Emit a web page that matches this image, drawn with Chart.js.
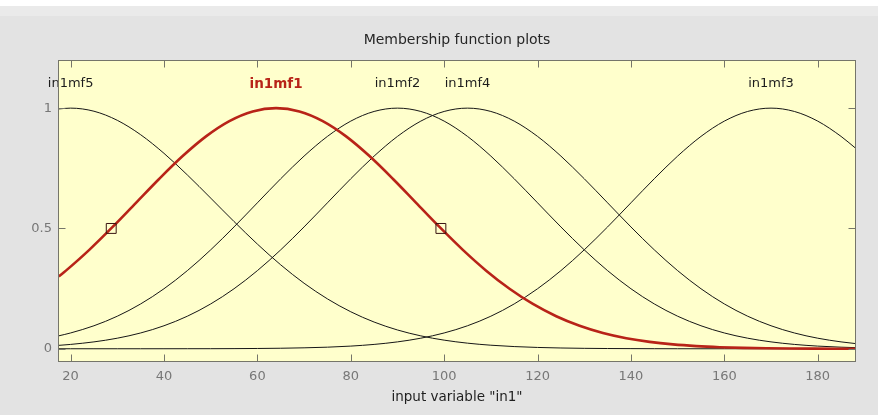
<!DOCTYPE html>
<html>
<head>
<meta charset="utf-8">
<title>Membership function plots</title>
<script src="https://cdn.jsdelivr.net/npm/chart.js@4.4.0/dist/chart.umd.min.js"></script>
<style>
  html, body { margin: 0; padding: 0; background: #e3e3e3; }
  canvas { display: block; }
</style>
</head>
<body>
<canvas id="mfChart" width="878" height="415"></canvas>
<script>
'use strict';

// sample points along input variable "in1"
let inputX = [17.5, 20, 25, 30, 35, 40, 45, 50, 55, 60, 65, 70, 75, 80, 85, 90, 95, 100, 105, 110,
  115, 120, 125, 130, 135, 140, 145, 150, 155, 160, 165, 170, 175, 180, 185, 188];
// in1mf1 peaks off the 5-grid, so it gets its own samples
let in1mf1X = [17.5, 19, 24, 29, 34, 39, 44, 49, 54, 59, 64, 69, 74, 79, 84, 89, 94, 99, 104, 109,
  114, 119, 124, 129, 134, 139, 144, 149, 154, 159, 164, 169, 174, 179, 184, 188];

// membership values
let in1mf5 = [0.9968, 1, 0.9871, 0.9493, 0.8895, 0.8121, 0.7224, 0.6261, 0.5287, 0.4350,
  0.3487, 0.2723, 0.2073, 0.1537, 0.1110, 0.0781, 0.0536, 0.0358, 0.0233, 0.0148,
  0.0091, 0.0055, 0.0032, 0.0018, 0.0010, 0.0006, 0.0003, 0.0001, 0, 0,
  0, 0, 0, 0, 0, 0];
let in1mf1 = [0.3008, 0.3247, 0.4111, 0.5063, 0.6065, 0.7066, 0.8007, 0.8825, 0.9460, 0.9862,
  1, 0.9862, 0.9460, 0.8825, 0.8007, 0.7066, 0.6065, 0.5063, 0.4111, 0.3247,
  0.2494, 0.1863, 0.1353, 0.0956, 0.0657, 0.0439, 0.0286, 0.0181, 0.0111, 0.0066,
  0.0039, 0.0022, 0.0012, 0.0006, 0.0003, 0.0002];
let in1mf2 = [0.0539, 0.0657, 0.0956, 0.1353, 0.1863, 0.2494, 0.3247, 0.4111, 0.5063, 0.6065,
  0.7066, 0.8007, 0.8825, 0.9460, 0.9862, 1, 0.9862, 0.9460, 0.8825, 0.8007,
  0.7066, 0.6065, 0.5063, 0.4111, 0.3247, 0.2494, 0.1863, 0.1353, 0.0956, 0.0657,
  0.0439, 0.0286, 0.0181, 0.0111, 0.0066, 0.0048];
let in1mf4 = [0.0142, 0.0181, 0.0286, 0.0439, 0.0657, 0.0956, 0.1353, 0.1863, 0.2494, 0.3247,
  0.4111, 0.5063, 0.6065, 0.7066, 0.8007, 0.8825, 0.9460, 0.9862, 1, 0.9862,
  0.9460, 0.8825, 0.8007, 0.7066, 0.6065, 0.5063, 0.4111, 0.3247, 0.2494, 0.1863,
  0.1353, 0.0956, 0.0657, 0.0439, 0.0286, 0.0218];
let in1mf3 = [0, 0, 0, 0, 0, 0.0001, 0.0002, 0.0003, 0.0006, 0.0012,
  0.0022, 0.0039, 0.0066, 0.0111, 0.0181, 0.0286, 0.0439, 0.0657, 0.0956, 0.1353,
  0.1863, 0.2494, 0.3247, 0.4111, 0.5063, 0.6065, 0.7066, 0.8007, 0.8825, 0.9460,
  0.9862, 1, 0.9862, 0.9460, 0.8825, 0.8353];

let mfNames = ['in1mf5', 'in1mf1', 'in1mf2', 'in1mf4', 'in1mf3'];
let mfSeries = [in1mf5, in1mf1, in1mf2, in1mf4, in1mf3];
let mfXs = [inputX, in1mf1X, inputX, inputX, inputX];
let mfCenters = [20, 64, 90, 105, 170];
let selectedMf = 'in1mf1';

// the two little squares on the selected curve
let markerX = [28.7, 99.3];
let markerY = [0.5, 0.5];

let xTicks = [20, 40, 60, 80, 100, 120, 140, 160, 180];
let yTicks = [0, 0.5, 1];
let yTickLabels = ['0', '0.5', '1'];

let chartTitle = 'Membership function plots';
let xTitle = 'input variable "in1"';

const FONT = 'DejaVu Sans';
const RED = '#b82318';
const LABEL_LEVEL = 1.1;
const TICK_LEN = 7;

function toPoints(xs, ys) {
  let pts = [];
  for (let i = 0; i < xs.length; i++) {
    pts.push({ x: xs[i], y: ys[i] });
  }
  return pts;
}

let datasets = [];
datasets.push({
  label: 'markers',
  data: toPoints(markerX, markerY),
  showLine: false,
  pointStyle: 'rect',
  pointRadius: 7,
  pointBorderWidth: 1,
  pointBorderColor: '#3a1512',
  pointBackgroundColor: 'rgba(0,0,0,0)',
  order: 0
});
for (let i = 0; i < mfNames.length; i++) {
  let isSel = mfNames[i] === selectedMf;
  datasets.push({
    label: mfNames[i],
    data: toPoints(mfXs[i], mfSeries[i]),
    showLine: true,
    borderColor: isSel ? RED : '#161616',
    borderWidth: isSel ? 2.6 : 1,
    pointRadius: 0,
    cubicInterpolationMode: 'monotone',
    order: isSel ? 1 : 2
  });
}

// matlab-ish frame: grey figure, yellow axes, inward ticks, mf names
let matlabLook = {
  id: 'matlabLook',
  beforeDraw(chart) {
    let ctx = chart.ctx;
    let a = chart.chartArea;
    ctx.save();
    ctx.fillStyle = '#e3e3e3';
    ctx.fillRect(0, 0, chart.width, chart.height);
    ctx.fillStyle = '#ffffff';
    ctx.fillRect(0, 0, chart.width, 6);
    ctx.fillStyle = '#eaeaea';
    ctx.fillRect(0, 6, chart.width, 10);
    ctx.fillStyle = '#ffffcc';
    ctx.fillRect(a.left, a.top, a.right - a.left, a.bottom - a.top);
    // title sits over the middle of the axes box
    ctx.fillStyle = '#262626';
    ctx.font = '14px "' + FONT + '"';
    ctx.textAlign = 'center';
    ctx.textBaseline = 'middle';
    ctx.fillText(chartTitle, (a.left + a.right) / 2, 40);
    ctx.restore();
  },
  afterDatasetsDraw(chart) {
    let ctx = chart.ctx;
    let xs = chart.scales.x;
    let ys = chart.scales.y;
    ctx.save();
    ctx.textAlign = 'center';
    ctx.textBaseline = 'middle';
    for (let i = 0; i < mfNames.length; i++) {
      let isSel = mfNames[i] === selectedMf;
      ctx.font = (isSel ? 'bold 13.5px' : '13px') + ' "' + FONT + '"';
      ctx.fillStyle = isSel ? RED : '#1c1c1c';
      ctx.fillText(mfNames[i], xs.getPixelForValue(mfCenters[i]), ys.getPixelForValue(LABEL_LEVEL));
    }
    ctx.restore();
  },
  afterDraw(chart) {
    let ctx = chart.ctx;
    let a = chart.chartArea;
    let xs = chart.scales.x;
    let ys = chart.scales.y;
    let l = Math.round(a.left) + 0.5;
    let r = Math.round(a.right) - 0.5;
    let t = Math.round(a.top) + 0.5;
    let b = Math.round(a.bottom) - 0.5;
    ctx.save();
    ctx.strokeStyle = '#75756a';
    ctx.lineWidth = 1;
    ctx.strokeRect(l, t, r - l, b - t);
    ctx.beginPath();
    xTicks.forEach(v => {
      let px = Math.round(xs.getPixelForValue(v)) + 0.5;
      ctx.moveTo(px, b);
      ctx.lineTo(px, b - TICK_LEN);
      ctx.moveTo(px, t);
      ctx.lineTo(px, t + TICK_LEN);
    });
    yTicks.forEach(v => {
      let py = Math.round(ys.getPixelForValue(v)) + 0.5;
      ctx.moveTo(l, py);
      ctx.lineTo(l + TICK_LEN, py);
      ctx.moveTo(r, py);
      ctx.lineTo(r - TICK_LEN, py);
    });
    ctx.stroke();
    ctx.restore();
  }
};

const ctx = document.getElementById('mfChart');

new Chart(ctx, {
  type: 'scatter',
  data: { datasets: datasets },
  plugins: [matlabLook],
  options: {
    responsive: false,
    animation: false,
    events: [],
    layout: { padding: { left: 0, right: 22, top: 60, bottom: 0 } },
    plugins: {
      legend: { display: false },
      tooltip: { enabled: false },
      title: { display: false }
    },
    scales: {
      x: {
        type: 'linear',
        min: 17.3,
        max: 188.2,
        afterBuildTicks: (scale) => { scale.ticks = xTicks.map(v => ({ value: v })); },
        afterFit: (scale) => { scale.height = 53; },
        grid: { display: false, drawTicks: false },
        border: { display: false },
        ticks: {
          color: '#777777',
          font: { family: FONT, size: 13 },
          padding: 7,
          maxRotation: 0,
          autoSkip: false,
          callback: (v) => String(v)
        },
        title: {
          display: true,
          text: xTitle,
          color: '#1e1e1e',
          font: { family: FONT, size: 13.5 },
          padding: { top: 0, bottom: 9 }
        }
      },
      y: {
        type: 'linear',
        min: -0.055,
        max: 1.2,
        afterBuildTicks: (scale) => { scale.ticks = yTicks.map(v => ({ value: v })); },
        afterFit: (scale) => { scale.width = 58; },
        grid: { display: false, drawTicks: false },
        border: { display: false },
        ticks: {
          color: '#777777',
          font: { family: FONT, size: 13 },
          padding: 6,
          autoSkip: false,
          callback: (v) => yTickLabels[yTicks.indexOf(v)]
        }
      }
    }
  }
});
</script>
</body>
</html>
